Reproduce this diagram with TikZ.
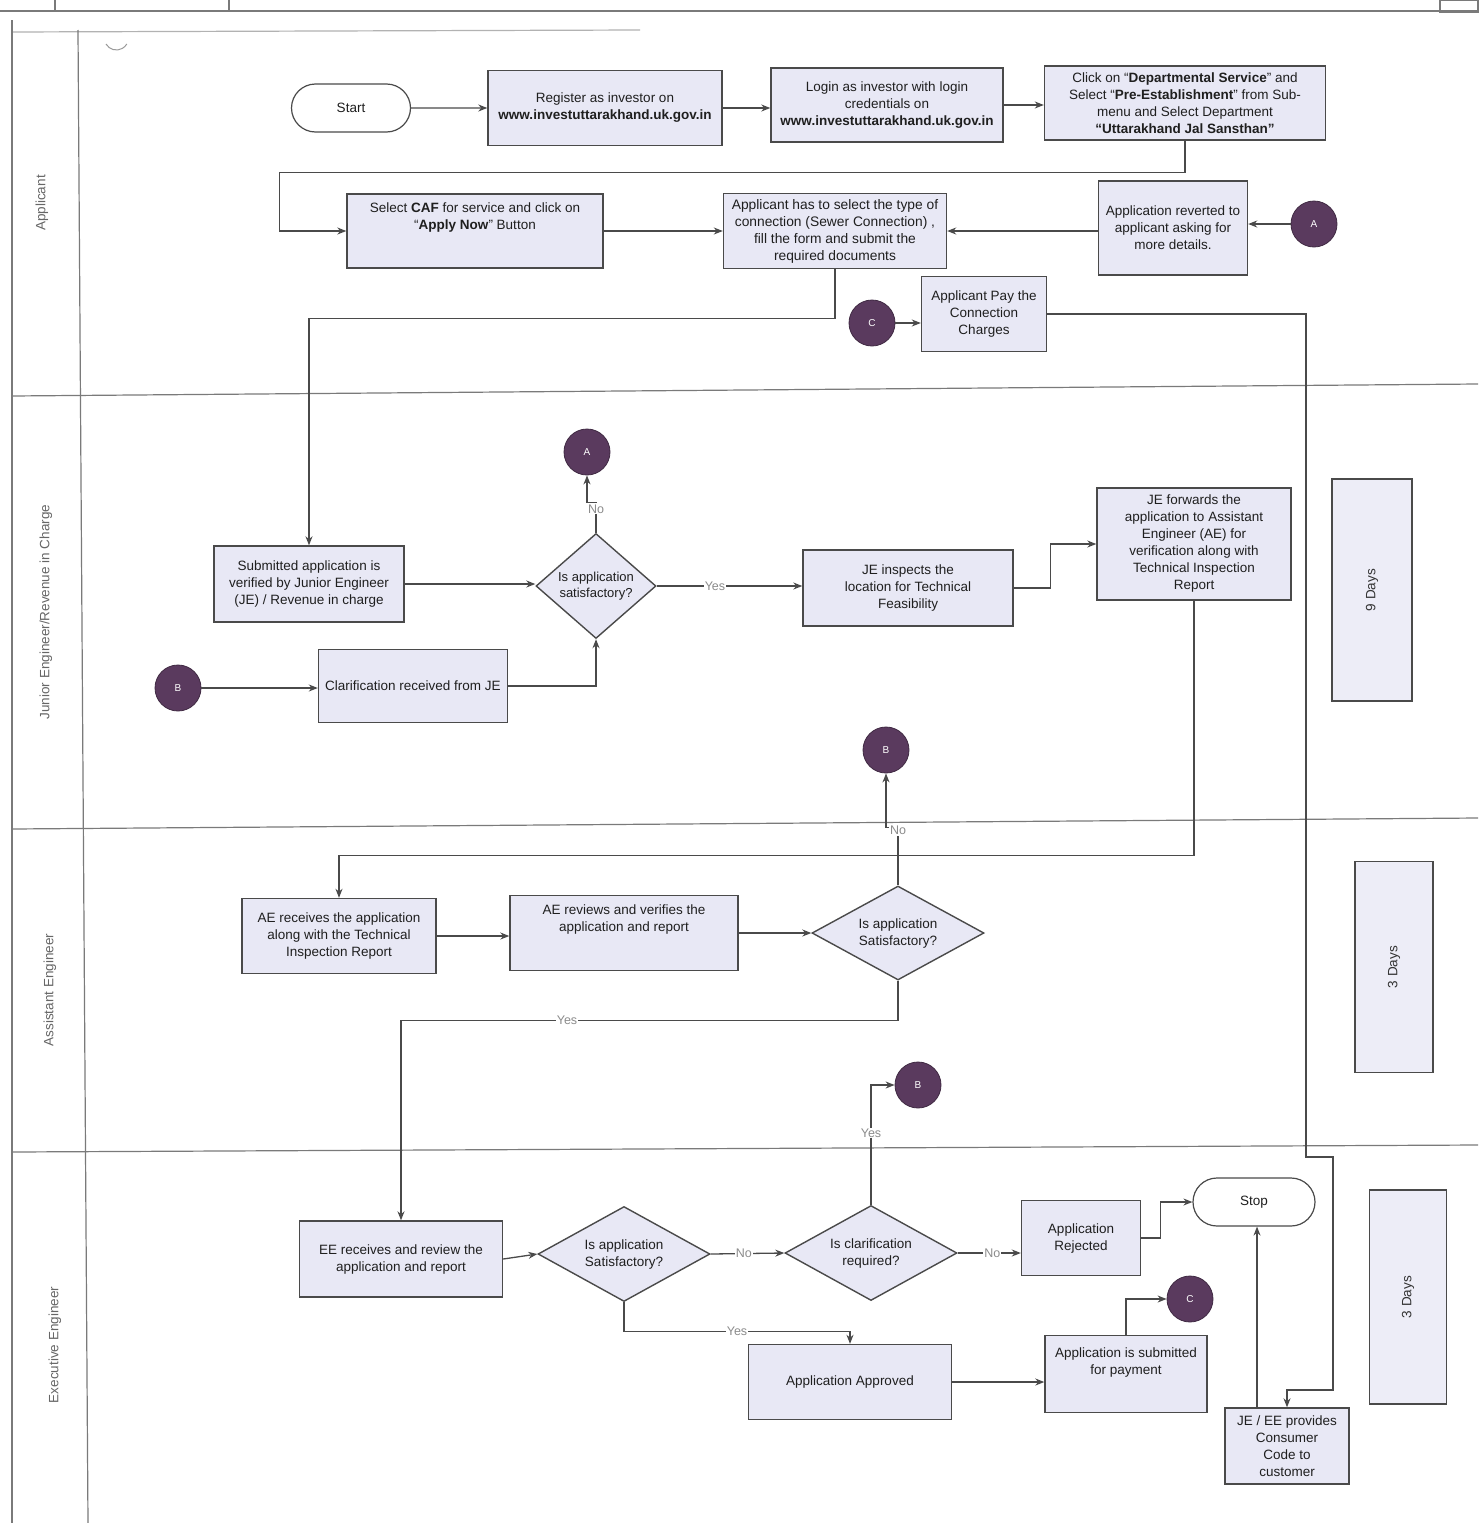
\documentclass[tikz,border=0pt]{standalone}
\usepackage{fontspec}
\setmainfont{Liberation Sans}
\usetikzlibrary{shapes.geometric,shapes.misc,arrows.meta,calc}
\definecolor{boxfill}{HTML}{E8E8F5}
\definecolor{edge}{HTML}{4A4A4A}
\definecolor{circfill}{HTML}{5A3A5E}
\definecolor{lanecol}{HTML}{7A7A7A}
\begin{document}
\begin{tikzpicture}[x=1pt,y=-1pt,
  every node/.style={font=\fontsize{13.5}{17}\selectfont, text=black!88},
  box/.style={draw=edge, line width=1.4pt, fill=boxfill, align=center, inner sep=2pt},
  term/.style={rounded rectangle, draw=edge, line width=1.2pt, fill=white, align=center, inner sep=2pt},
  circ/.style={circle, fill=circfill, draw=circfill!70!black, line width=0.8pt, minimum size=46pt, inner sep=0pt, text=white, font=\fontsize{10}{12}\selectfont},
  dia/.style={diamond, draw=edge, line width=1.4pt, fill=boxfill, align=center, inner sep=0pt},
  arr/.style={draw=edge, line width=1.3pt, -{Stealth[length=9pt,width=7pt]}},
  yn/.style={font=\fontsize{12.5}{14}\selectfont, text=black!45, fill=white, inner sep=1pt},
  lanelbl/.style={rotate=90, font=\fontsize{13.5}{15}\selectfont, text=black!60},
  daybox/.style={draw=edge, line width=1.4pt, fill=boxfill!80!white, inner sep=0pt},
  laneline/.style={draw=lanecol, line width=1.2pt}
]
\useasboundingbox (0,0) rectangle (1478,1523);
\fill[white] (0,0) rectangle (1478,1523);

% header and lanes
\draw[laneline] (0,11) -- (1478,11);
\draw[laneline] (55,0) -- (55,11);
\draw[laneline] (229,0) -- (229,11);
\draw[laneline] (1440,0) rectangle (1478,12);
\draw[laneline, draw=black!30] (12,32) -- (640,30);
\draw[laneline] (12,20) -- (12,1523);
\draw[laneline] (78,30) -- (88,1523);
\draw[laneline] (12,396) -- (1478,384);
\draw[laneline] (12,829) -- (1478,818);
\draw[laneline] (12,1152) -- (1478,1145);
\draw[draw=black!40, line width=1pt] (106,44) arc[start angle=150, end angle=30, radius=12];

\node[lanelbl] (l1) at (42,203) {Applicant};
\node[lanelbl] (l2) at (46,612) {Junior Engineer/Revenue in Charge};
\node[lanelbl] (l3) at (50,990) {Assistant Engineer};
\node[lanelbl] (l4) at (55,1345) {Executive Engineer};

% Applicant lane
\node[term, minimum width=123pt, minimum height=48pt] (start) at (351,108) {Start};
\node[box, minimum width=234pt, minimum height=75pt] (reg) at (605,108) {Register as investor on\\\textbf{www.investuttarakhand.uk.gov.in}};
\node[box, minimum width=232pt, minimum height=74pt] (login) at (887,105) {Login as investor with login\\credentials on\\\textbf{www.investuttarakhand.uk.gov.in}};
\node[box, minimum width=281pt, minimum height=74pt] (click) at (1185,103) {Click on ``\textbf{Departmental Service}'' and\\Select ``\textbf{Pre-Establishment}'' from Sub-\\menu and Select Department\\\textbf{``Uttarakhand Jal Sansthan''}};
\node[box, minimum width=256pt, minimum height=74pt] (caf) at (475,231) {Select \textbf{CAF} for service and click on\\``\textbf{Apply Now}'' Button\\[12pt]};
\node[box, minimum width=223pt, minimum height=75pt, font=\fontsize{13.8}{17}\selectfont] (appsel) at (835,231) {Applicant has to select the type of\\connection (Sewer Connection) ,\\fill the form and submit the\\required documents};
\node[box, minimum width=149pt, minimum height=94pt] (rev) at (1173,228) {Application reverted to\\applicant asking for\\more details.};
\node[circ] (a1) at (1314,224) {A};
\node[circ] (c1) at (872,323) {C};
\node[box, minimum width=125pt, minimum height=75pt] (pay) at (984,314) {Applicant Pay the\\Connection\\Charges};

% JE lane
\node[circ] (a2) at (587,452) {A};
\node[box, minimum width=190pt, minimum height=76pt] (sub) at (309,584) {Submitted application is\\verified by Junior Engineer\\(JE) / Revenue in charge};
\node[dia, minimum width=120pt, minimum height=105pt, aspect=1.15, font=\fontsize{13}{16}\selectfont] (jed) at (596,586) {Is application\\satisfactory?};
\node[box, minimum width=210pt, minimum height=76pt] (insp) at (908,588) {JE inspects the\\location for Technical\\Feasibility};
\node[box, minimum width=194pt, minimum height=112pt] (fwd) at (1194,544) {JE forwards the\\application to Assistant\\Engineer (AE) for\\verification along with\\Technical Inspection\\Report};
\node[circ] (b1) at (178,688) {B};
\node[box, minimum width=189pt, minimum height=73pt] (clar) at (413,686) {Clarification received from JE};
\node[daybox, minimum width=80pt, minimum height=222pt] (d1) at (1372,590) {};
\node[lanelbl, text=black!80] (d1t) at (1372,590) {9 Days};

% AE lane
\node[circ] (b2) at (886,750) {B};
\node[box, minimum width=194pt, minimum height=75pt] (aer) at (339,936) {AE receives the application\\along with the Technical\\Inspection Report};
\node[box, minimum width=228pt, minimum height=75pt] (aerv) at (624,933) {AE reviews and verifies the\\application and report\\[12pt]};
\node[dia, minimum width=172pt, minimum height=94pt, aspect=1.8] (aed) at (898,933) {Is application\\Satisfactory?};
\node[daybox, minimum width=78pt, minimum height=211pt] (d2) at (1394,967) {};
\node[lanelbl, text=black!80] (d2t) at (1394,967) {3 Days};

% EE lane
\node[circ] (b3) at (918,1085) {B};
\node[box, minimum width=203pt, minimum height=76pt] (eer) at (401,1259) {EE receives and review the\\application and report};
\node[dia, minimum width=172pt, minimum height=95pt, aspect=1.8] (eed) at (624,1254) {Is application\\Satisfactory?};
\node[dia, minimum width=172pt, minimum height=95pt, aspect=1.8] (cld) at (871,1253) {Is clarification\\required?};
\node[box, minimum width=119pt, minimum height=75pt] (rej) at (1081,1238) {Application\\Rejected};
\node[term, minimum width=126pt, minimum height=48pt] (stop) at (1254,1202) {Stop};
\node[circ] (c2) at (1190,1299) {C};
\node[box, minimum width=203pt, minimum height=75pt] (appr) at (850,1382) {Application Approved};
\node[box, minimum width=162pt, minimum height=77pt] (paysub) at (1126,1374) {Application is submitted\\for payment\\[8pt]};
\node[box, minimum width=124pt, minimum height=76pt] (prov) at (1287,1446) {JE / EE provides\\Consumer\\Code to\\customer};
\node[daybox, minimum width=77pt, minimum height=214pt] (d3) at (1408,1297) {};
\node[lanelbl, text=black!80] (d3t) at (1408,1297) {3 Days};

% connectors - applicant
\draw[arr] (start) -- (reg);
\draw[arr] (reg.east) -- (login.west |- reg.east);
\draw[arr] (login.east) -- (click.west |- login.east);
\draw[arr] (click.south) -- ++(0,32) -| ($(caf.west)+(-67,0)$) -- (caf.west);
\draw[arr] (caf.east) -- (appsel.west);
\draw[arr] (rev.west |- appsel.east) -- (appsel.east);
\draw[arr] (a1.west) -- (rev.east |- a1.west);
\draw[arr] (appsel.south) -- ++(0,49) -| (sub.north);
\draw[arr] (c1.east) -- (pay.west |- c1.east);
\coordinate (p1) at (1306,1157);
\coordinate (p2) at (1333,1157);
\coordinate (p3) at (1333,1390);
\draw[arr] (pay.east) -- (pay.east -| p1) -- (p1) -- (p2) -- (p3) -| (prov.north);

% JE lane
\draw[arr] (sub.east) -- (jed.west |- sub.east);
\draw[arr] (jed.north) -- ++(0,-30) node[yn, pos=0.8] {No} -| (a2.south);
\draw[arr] (jed.east) -- node[yn, pos=0.4] {Yes} (insp.west |- jed.east);
\draw[arr] (insp.east) -- ++(37,0) |- (fwd.west);
\draw[arr] (b1.east) -- (clar.west |- b1.east);
\draw[arr] (clar.east) -| (jed.south);
\draw[arr] (fwd.south) -- ++(0,255) -| (aer.north);

% AE lane
\draw[arr] (aer.east) -- (aerv.west |- aer.east);
\draw[arr] (aerv.east) -- (aed.west);
\draw[arr] (aed.north) -- ++(0,-58) node[yn, pos=0.95] {No} -| (b2.south);
\draw[arr] (aed.south) -- ++(0,40) -| node[yn, pos=0.333] {Yes} (eer.north);

% EE lane
\draw[arr] (eer.east) -- (eed.west);
\draw[arr] (eed.east) -- node[yn, pos=0.45] {No} (cld.west);
\draw[arr] (eed.south) -- ++(0,29) -| node[yn, pos=0.25] {Yes} (appr.north);
\draw[arr] (cld.north) |- node[yn, pos=0.3] {Yes} (b3.west);
\draw[arr] (cld.east) -- node[yn, pos=0.55] {No} (rej.west |- cld.east);
\draw[arr] (rej.east) -- ++(19,0) |- (stop.west);
\draw[arr] (appr.east) -- (paysub.west |- appr.east);
\draw[arr] (paysub.north) |- (c2.west);
\draw[arr] ($(prov.north)+(-30,0)$) -- ($(stop.south)+(3,0)$);
\end{tikzpicture}
\end{document}
